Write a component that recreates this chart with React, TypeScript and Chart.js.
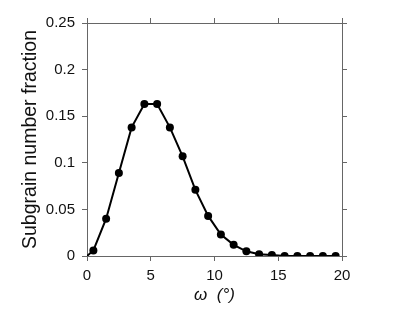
import React, { useEffect, useRef } from "react";
import { Chart, registerables } from "chart.js";

Chart.register(...registerables);

const omega = [0, 0.5, 1.5, 2.5, 3.5, 4.5, 5.5, 6.5, 7.5, 8.5, 9.5, 10.5, 11.5, 12.5, 13.5, 14.5, 15.5, 16.5, 17.5, 18.5, 19.5];
const fraction = [0, 0.006, 0.040, 0.089, 0.138, 0.163, 0.163, 0.138, 0.107, 0.071, 0.043, 0.023, 0.012, 0.005, 0.002, 0.001, 0, 0, 0, 0, 0];
const xTicks = [0, 5, 10, 15, 20];
const yTicks = [0, 0.05, 0.1, 0.15, 0.2, 0.25];

const FONT = "'Liberation Sans', Arial, Helvetica, sans-serif";
const AXIS = "#666";

export default function App() {
  const ref = useRef<HTMLCanvasElement>(null);
  useEffect(() => {
    if (!ref.current) return;
    const grid = {
      display: true,
      drawOnChartArea: false,
      drawTicks: true,
      tickLength: 5,
      color: AXIS,
      lineWidth: 1,
    };
    const border = { display: true, color: AXIS, width: 1 };
    const chart = new Chart(ref.current, {
      type: "line",
      data: {
        datasets: [
          {
            data: omega.map((x, i) => ({ x, y: fraction[i] })),
            borderColor: "#000",
            backgroundColor: "#000",
            borderWidth: 2,
            pointRadius: omega.map((_, i) => (i === 0 ? 0 : 4)),
            pointBackgroundColor: "#000",
            pointBorderWidth: 0,
            tension: 0,
            fill: false,
          },
        ],
      },
      options: {
        animation: false,
        responsive: false,
        layout: { padding: 0 },
        plugins: { legend: { display: false }, tooltip: { enabled: false } },
        scales: {
          x: {
            type: "linear",
            position: "bottom",
            min: 0,
            max: 20,
            afterBuildTicks: (s: any) => { s.ticks = xTicks.map((v) => ({ value: v })); },
            afterFit: (s: any) => { s.height = 56; },
            grid,
            border,
            ticks: { color: "#111", font: { family: FONT, size: 15 }, padding: 6, maxRotation: 0 },
            title: {
              display: true,
              text: "ω  (°)",
              color: "#111",
              font: { family: FONT, size: 17, style: "italic" },
              padding: { top: 0, bottom: 7 },
            },
          },
          x2: {
            type: "linear",
            position: "top",
            min: 0,
            max: 20,
            afterBuildTicks: (s: any) => { s.ticks = xTicks.map((v) => ({ value: v })); },
            afterFit: (s: any) => { s.height = 23; },
            grid,
            border,
            ticks: { display: false },
          },
          y: {
            type: "linear",
            position: "left",
            min: 0,
            max: 0.25,
            afterBuildTicks: (s: any) => { s.ticks = yTicks.map((v) => ({ value: v })); },
            afterFit: (s: any) => { s.width = 87; },
            grid,
            border,
            ticks: {
              color: "#111",
              font: { family: FONT, size: 15 },
              padding: 7,
              callback: (v: any) => String(Number(v.toFixed(2))),
            },
            title: {
              display: true,
              text: "Subgrain number fraction",
              color: "#111",
              font: { family: FONT, size: 19.5 },
              padding: { top: 19, bottom: 0 },
            },
          },
          y2: {
            type: "linear",
            position: "right",
            min: 0,
            max: 0.25,
            afterBuildTicks: (s: any) => { s.ticks = yTicks.map((v) => ({ value: v })); },
            afterFit: (s: any) => { s.width = 73; },
            grid,
            border,
            ticks: { display: false },
          },
        },
      },
    } as any);
    return () => chart.destroy();
  }, []);
  return (
    <div style={{ position: "absolute", left: 0, top: 0, width: 415, height: 312, background: "#fff" }}>
      <canvas ref={ref} width={415} height={312} />
    </div>
  );
}
